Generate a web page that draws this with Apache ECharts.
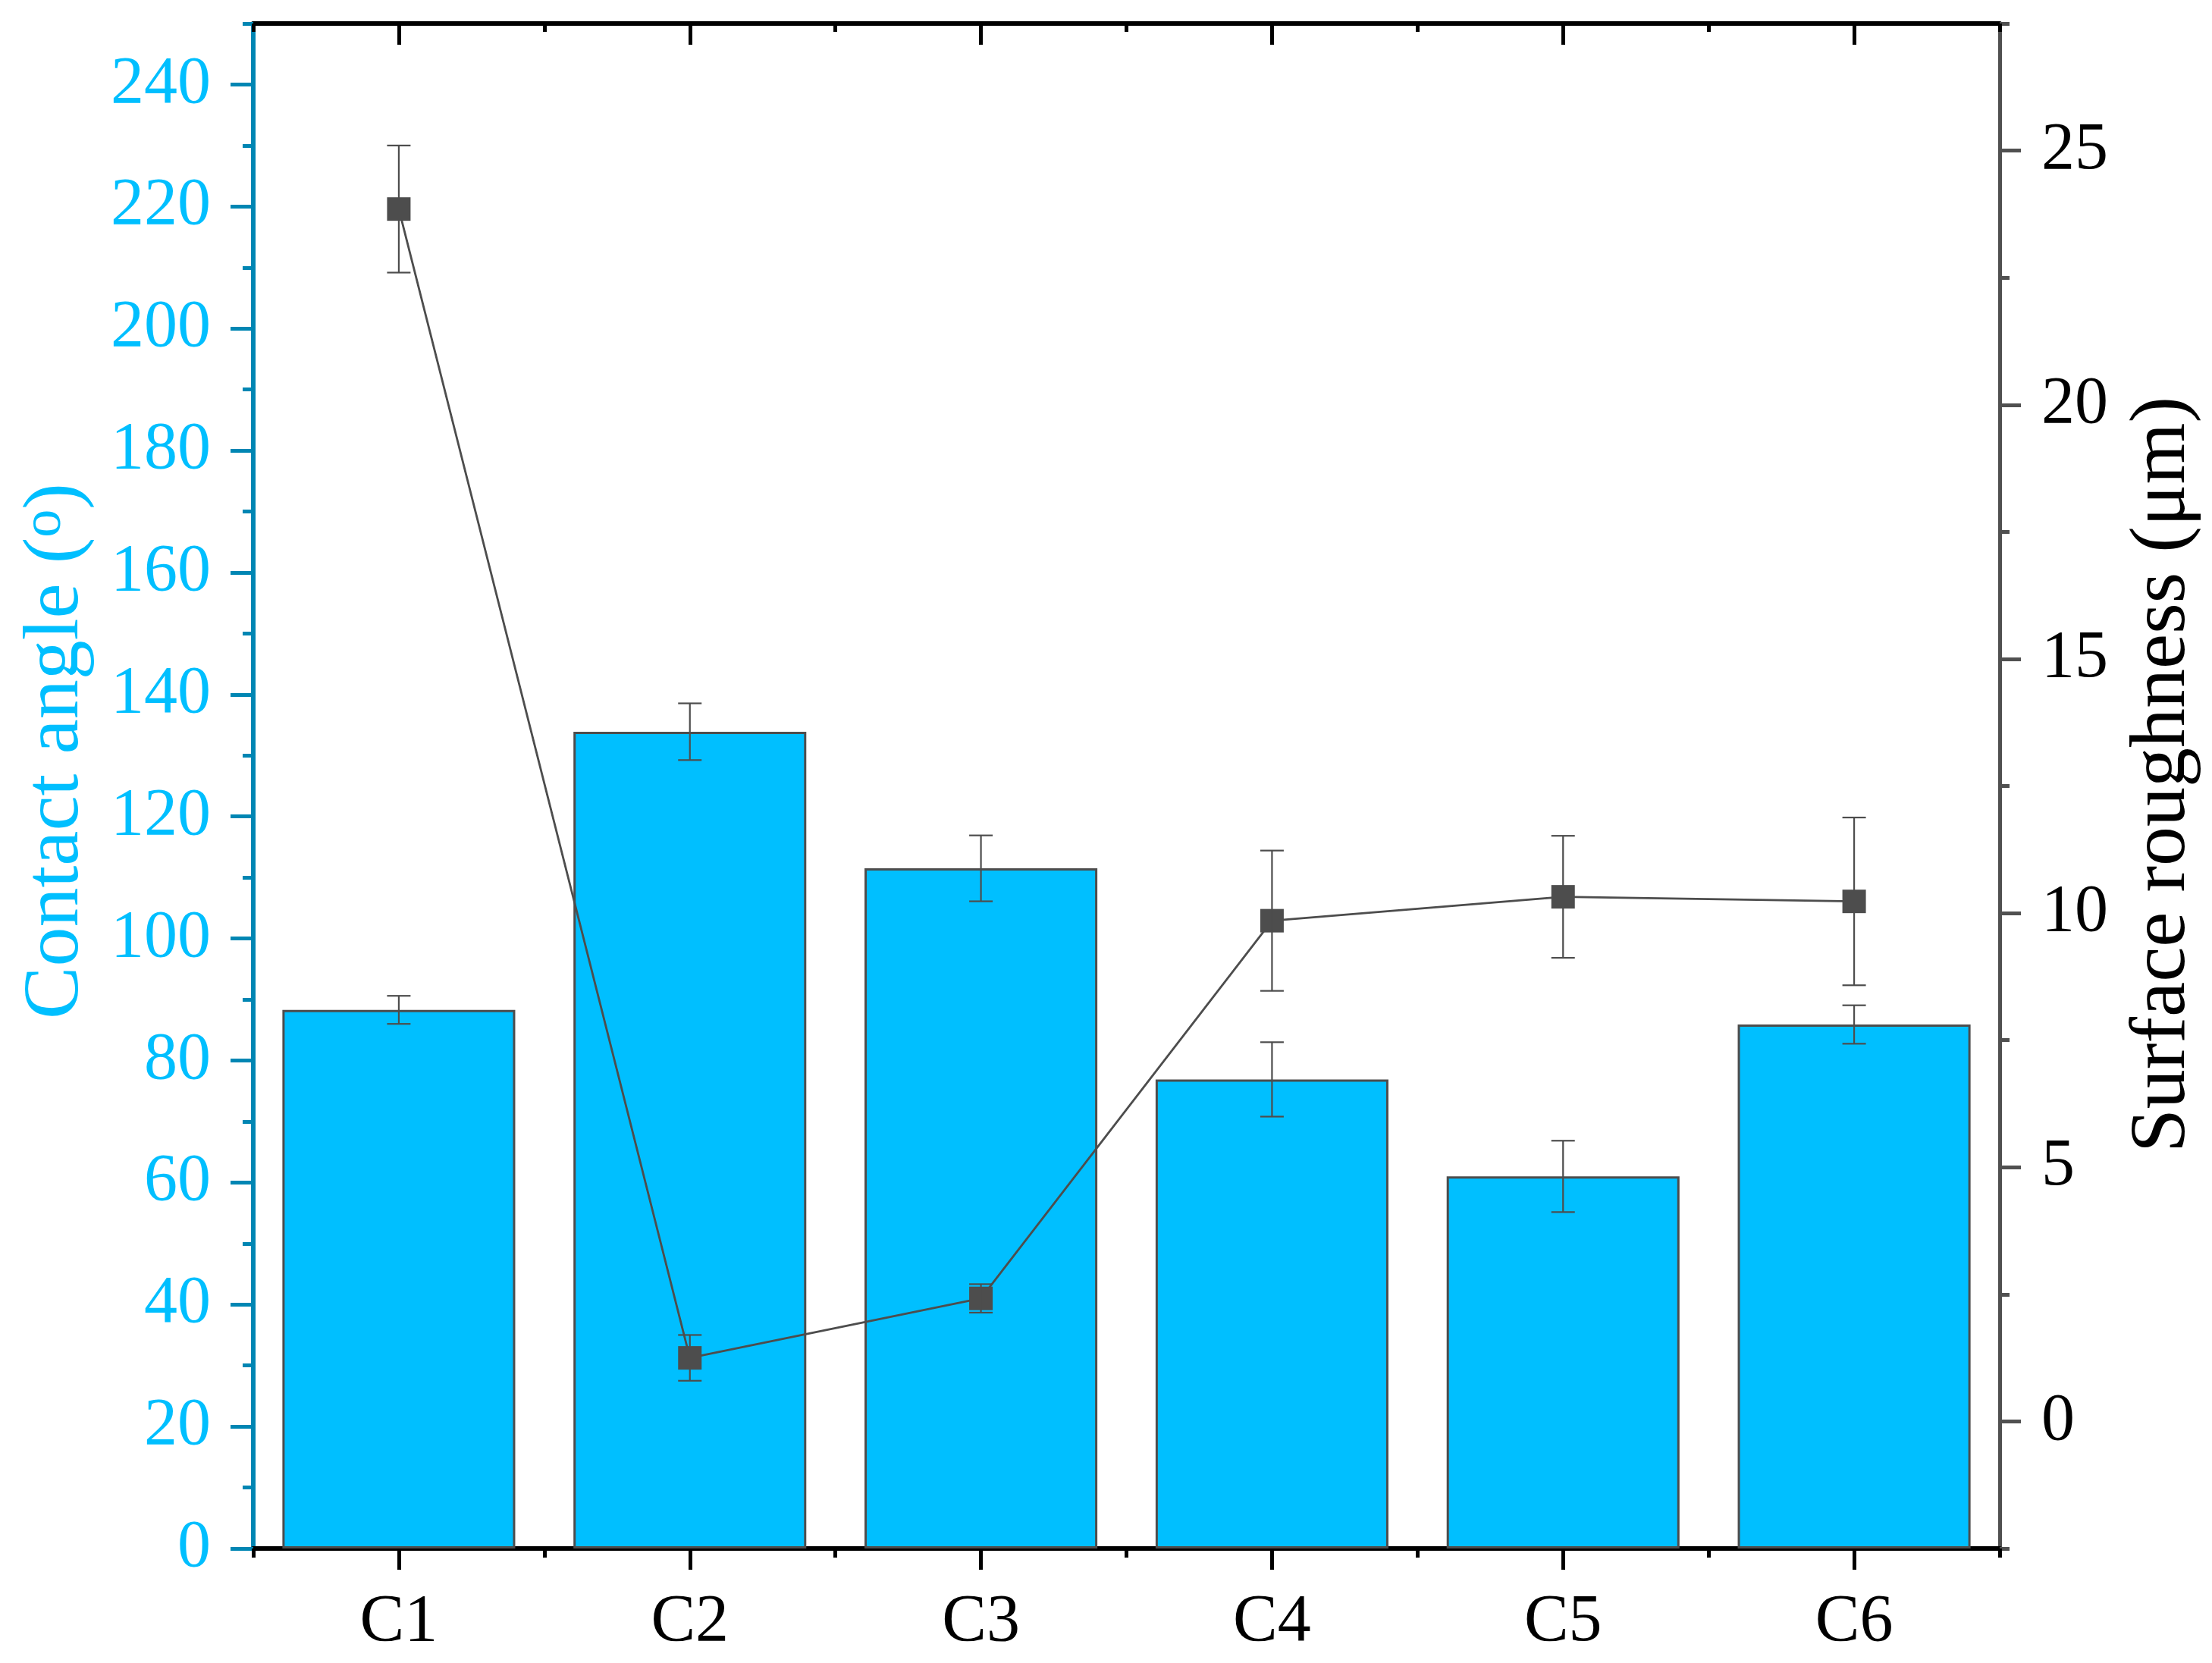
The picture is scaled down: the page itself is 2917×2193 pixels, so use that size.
<!DOCTYPE html>
<html>
<head>
<meta charset="utf-8">
<script src="https://cdn.jsdelivr.net/npm/echarts@6/dist/echarts.min.js"></script>
<style>
html,body{margin:0;padding:0;background:#fff;}
#chart{width:2917px;height:2193px;}
</style>
</head>
<body>
<div id="chart"></div>
<script>
// ---- data ----
const categories = ['C1', 'C2', 'C3', 'C4', 'C5', 'C6'];
const contactAngle = [88.3, 133.9, 111.5, 76.9, 61.0, 85.9];
const contactAngleErr = [2.3, 4.65, 5.4, 6.1, 5.85, 3.15];
const roughness = [23.85, 1.25, 2.42, 9.85, 10.32, 10.23];
const roughnessErr = [1.25, 0.45, 0.28, 1.38, 1.2, 1.65];
const leftTicks = [0, 20, 40, 60, 80, 100, 120, 140, 160, 180, 200, 220, 240];
const leftMinorTicks = [10, 30, 50, 70, 90, 110, 130, 150, 170, 190, 210, 230, 250];
const rightTicks = [0, 5, 10, 15, 20, 25];
const rightMinorTicks = [-2.5, 2.5, 7.5, 12.5, 17.5, 22.5, 27.5];

const FONT = 'Liberation Serif';
const BLUE = '#00BFFF';
const BLUE_AXIS = '#0086B3';
const GREY = '#4d4d4d';

function errorData(mean, err) {
  return mean.map((m, i) => [i, m - err[i], m + err[i]]);
}
function errorRender(capW) {
  return function (params, api) {
    const i = api.value(0);
    const lo = api.coord([i, api.value(1)]);
    const hi = api.coord([i, api.value(2)]);
    const style = { stroke: GREY, lineWidth: 2.2, fill: null };
    return {
      type: 'group',
      children: [
        { type: 'line', shape: { x1: hi[0], y1: hi[1], x2: lo[0], y2: lo[1] }, style: style },
        { type: 'line', shape: { x1: hi[0] - capW / 2, y1: hi[1], x2: hi[0] + capW / 2, y2: hi[1] }, style: style },
        { type: 'line', shape: { x1: lo[0] - capW / 2, y1: lo[1], x2: lo[0] + capW / 2, y2: lo[1] }, style: style }
      ]
    };
  };
}

const chart = echarts.init(document.getElementById('chart'), null, { renderer: 'canvas', devicePixelRatio: 1 });

function xAx(position, showLine, inside, align, len, showLabel) {
  return {
    type: 'category', data: categories, position: position, boundaryGap: true,
    axisLine: { show: showLine, onZero: false, lineStyle: { color: '#000', width: 6 } },
    axisTick: { show: true, inside: inside, alignWithLabel: align, interval: 0, length: len, lineStyle: { color: '#000', width: 5 } },
    axisLabel: { show: showLabel, interval: 0, margin: 54, color: '#000', fontSize: 88, fontFamily: FONT },
    splitLine: { show: false }
  };
}

const option = {
  backgroundColor: '#ffffff',
  animation: false,
  grid: { left: 334, right: 280, top: 31, bottom: 151, containLabel: false },
  xAxis: [
    xAx('bottom', true, false, true, 28, true),
    xAx('bottom', false, false, false, 12, false),
    xAx('top', true, true, true, 28, false),
    xAx('top', false, true, false, 11, false)
  ],
  yAxis: [
    {
      type: 'value', position: 'left', min: 0, max: 250,
      name: 'Contact angle ({sup|o})', nameLocation: 'middle', nameGap: 207, nameRotate: 90,
      nameTextStyle: {
        color: BLUE, fontSize: 104, fontFamily: FONT, padding: [0, 0, 0, 92],
        rich: { sup: { color: BLUE, fontSize: 74, fontFamily: FONT, verticalAlign: 'top' } }
      },
      axisLine: { show: true, onZero: false, lineStyle: { color: BLUE_AXIS, width: 6 } },
      axisTick: { show: true, customValues: leftTicks, length: 30, lineStyle: { color: BLUE_AXIS, width: 5 } },
      axisLabel: { show: true, customValues: leftTicks, margin: 56, color: BLUE, fontSize: 88, fontFamily: FONT },
      splitLine: { show: false }
    },
    {
      type: 'value', position: 'right', min: -2.5, max: 27.5,
      name: 'Surface roughness (\u03bcm)', nameLocation: 'middle', nameGap: 164, nameRotate: 90,
      nameTextStyle: { color: '#000', fontSize: 104, fontFamily: FONT, padding: [0, 0, 0, 30] },
      axisLine: { show: true, onZero: false, lineStyle: { color: '#505050', width: 5 } },
      axisTick: { show: true, customValues: rightTicks, length: 28, lineStyle: { color: '#505050', width: 5 } },
      axisLabel: { show: true, customValues: rightTicks, margin: 55, color: '#000', fontSize: 88, fontFamily: FONT },
      splitLine: { show: false }
    },
    {
      type: 'value', position: 'left', offset: 0, min: 0, max: 250,
      axisLine: { show: false, onZero: false },
      axisTick: { show: true, customValues: leftMinorTicks, length: 14, lineStyle: { color: BLUE_AXIS, width: 5 } },
      axisLabel: { show: false },
      splitLine: { show: false }
    },
    {
      type: 'value', position: 'right', offset: 0, min: -2.5, max: 27.5,
      axisLine: { show: false, onZero: false },
      axisTick: { show: true, customValues: rightMinorTicks, length: 13, lineStyle: { color: '#505050', width: 5 } },
      axisLabel: { show: false },
      splitLine: { show: false }
    }
  ],
  series: [
    {
      name: 'Contact angle', type: 'bar', xAxisIndex: 0, yAxisIndex: 0,
      data: contactAngle, barWidth: '80%', z: 2,
      itemStyle: { color: BLUE, borderColor: GREY, borderWidth: 3 }
    },
    {
      name: 'Contact angle error', type: 'custom', xAxisIndex: 0, yAxisIndex: 0, z: 3,
      data: errorData(contactAngle, contactAngleErr),
      encode: { x: 0, y: [1, 2] },
      renderItem: errorRender(31)
    },
    {
      name: 'Surface roughness', type: 'line', xAxisIndex: 0, yAxisIndex: 1, z: 4,
      data: roughness, symbol: 'rect', symbolSize: 31, showSymbol: true,
      lineStyle: { color: GREY, width: 2.8 },
      itemStyle: { color: GREY, borderWidth: 0 }
    },
    {
      name: 'Surface roughness error', type: 'custom', xAxisIndex: 0, yAxisIndex: 1, z: 5,
      data: errorData(roughness, roughnessErr),
      encode: { x: 0, y: [1, 2] },
      renderItem: errorRender(31)
    }
  ]
};
chart.setOption(option);
</script>
</body>
</html>
